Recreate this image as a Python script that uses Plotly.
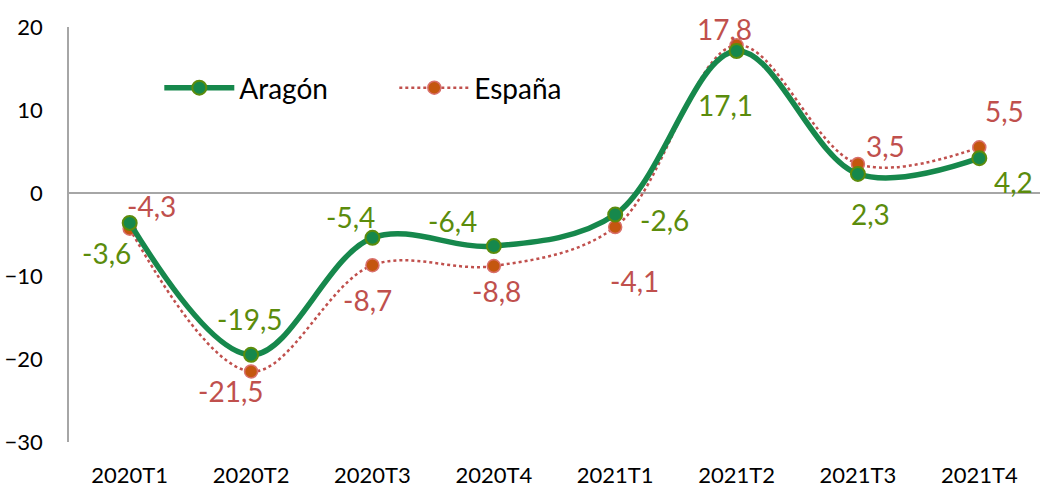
import plotly.graph_objects as go

categories = ["2020T1", "2020T2", "2020T3", "2020T4", "2021T1", "2021T2", "2021T3", "2021T4"]
aragon = [-3.6, -19.5, -5.4, -6.4, -2.6, 17.1, 2.3, 4.2]
espana = [-4.3, -21.5, -8.7, -8.8, -4.1, 17.8, 3.5, 5.5]
y_ticks = [-30, -20, -10, 0, 10, 20]

# label offsets in px (dx right, dy up)
aragon_off = [(-23, -30), (-2, 36), (-22, 21), (-41, 25), (49, -5), (-11, -54), (13, -40), (34, -24)]
espana_off = [(22, 23), (-21, -20), (-5, -35), (3, -25), (19, -54), (-12, 16), (28, 18), (25, 36)]

GREEN = "#16884c"
OLIVE = "#5b8c0c"
RED = "#c0504d"
ORANGE = "#c4560f"
FONT = "Lato"

def fmt(v):
    return f"{v:.1f}".replace(".", ",")

fig = go.Figure()
fig.add_trace(go.Scatter(
    x=categories, y=espana, name="España", mode="lines+markers",
    line=dict(color=RED, width=2.5, dash="dot", shape="spline", smoothing=1.0),
    marker=dict(size=13, color=ORANGE, line=dict(color="#d9706c", width=1.5)),
    cliponaxis=False,
))
fig.add_trace(go.Scatter(
    x=categories, y=aragon, name="Aragón", mode="lines+markers",
    line=dict(color=GREEN, width=5.5, shape="spline", smoothing=1.0),
    marker=dict(size=14, color=GREEN, line=dict(color=OLIVE, width=2)),
    cliponaxis=False,
))

annotations = []
for c, v, (dx, dy) in zip(categories, aragon, aragon_off):
    annotations.append(dict(x=c, y=v, xref="x", yref="y", text=fmt(v), showarrow=False,
                            xanchor="center", yanchor="middle", xshift=dx, yshift=dy,
                            font=dict(family=FONT, size=28, color=OLIVE)))
for c, v, (dx, dy) in zip(categories, espana, espana_off):
    annotations.append(dict(x=c, y=v, xref="x", yref="y", text=fmt(v), showarrow=False,
                            xanchor="center", yanchor="middle", xshift=dx, yshift=dy,
                            font=dict(family=FONT, size=28, color=RED)))

fig.update_layout(
    width=1040, height=489,
    margin=dict(l=69, r=0, t=27, b=47, autoexpand=False),
    paper_bgcolor="white", plot_bgcolor="white",
    font=dict(family=FONT, size=22, color="#000000"),
    showlegend=True,
    legend=dict(orientation="h", x=0.093, xanchor="left", y=0.853, yanchor="middle",
                font=dict(family=FONT, size=28, color="#000000"),
                traceorder="reversed", bgcolor="rgba(0,0,0,0)",
                itemwidth=70, entrywidth=150, entrywidthmode="pixels"),
    annotations=annotations,
    xaxis=dict(type="category", range=[-0.5, 7.5], showgrid=False, zeroline=False,
               showline=False, ticks="", ticklabelstandoff=18, automargin=False,
               tickfont=dict(family=FONT, size=22, color="#000000")),
    yaxis=dict(range=[-30, 20], tickvals=y_ticks, showgrid=False, automargin=False,
               zeroline=True, zerolinecolor="#a6a6a6", zerolinewidth=1.5,
               showline=True, linecolor="#a6a6a6", linewidth=1.5, ticks="",
               ticklabelstandoff=20,
               tickfont=dict(family=FONT, size=22, color="#000000")),
)

fig.write_html("out.html", config={"displayModeBar": False},
               post_script="document.body.style.margin='0';document.body.style.overflow='hidden';")
